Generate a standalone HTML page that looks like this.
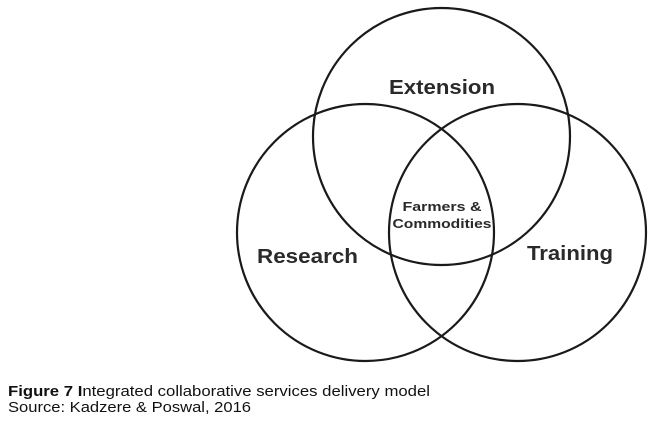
<!DOCTYPE html>
<html><head><style>body{margin:0;background:#fff}</style></head><body>
<svg width="657" height="436" viewBox="0 0 657 436" xmlns="http://www.w3.org/2000/svg" font-family="Liberation Sans, sans-serif">
<rect width="657" height="436" fill="#fff"/>
<g fill="none" stroke="#1a1a1a" stroke-width="2.2">
<circle cx="441.5" cy="136.5" r="128.5"/>
<circle cx="365.5" cy="232.5" r="128.5"/>
<circle cx="517.5" cy="232.5" r="128.5"/>
</g>
<g fill="#2a2a2a" font-weight="bold">
<text x="442" y="94" font-size="20" text-anchor="middle" textLength="106" lengthAdjust="spacingAndGlyphs">Extension</text>
<text x="257" y="263" font-size="20" textLength="101" lengthAdjust="spacingAndGlyphs">Research</text>
<text x="527" y="260" font-size="20" textLength="86" lengthAdjust="spacingAndGlyphs">Training</text>
<text x="442" y="211" font-size="13" text-anchor="middle" textLength="79" lengthAdjust="spacingAndGlyphs">Farmers &amp;</text>
<text x="442" y="228" font-size="13" text-anchor="middle" textLength="99" lengthAdjust="spacingAndGlyphs">Commodities</text>
</g>
<text x="8" y="396" font-size="15" fill="#111" textLength="422" lengthAdjust="spacingAndGlyphs"><tspan font-weight="bold">Figure 7 I</tspan>ntegrated collaborative services delivery model</text>
<text x="8" y="412" font-size="15" fill="#111" textLength="243" lengthAdjust="spacingAndGlyphs">Source: Kadzere &amp; Poswal, 2016</text>
</svg>
</body></html>
